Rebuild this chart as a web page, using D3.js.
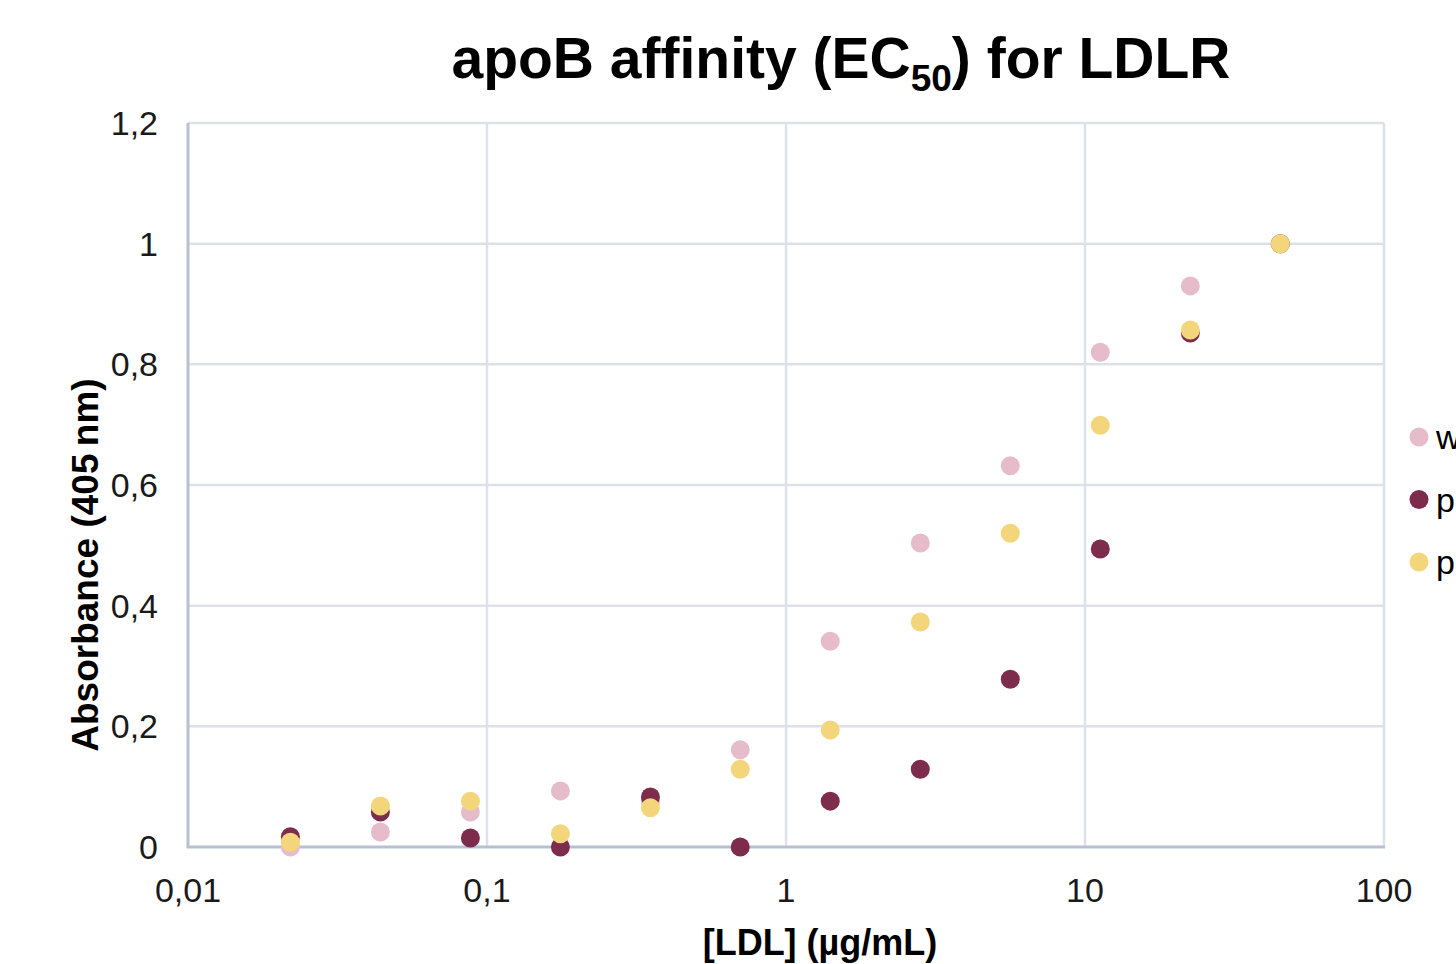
<!DOCTYPE html>
<html>
<head>
<meta charset="utf-8">
<script src="https://cdn.jsdelivr.net/npm/d3@7"></script>
<style>
  body { margin: 0; background: #fff; overflow: hidden; }
  text { font-family: "Liberation Sans", Arial, sans-serif; }
</style>
</head>
<body>
<svg id="chart" width="1456" height="964"></svg>
<script>
// LDL concentration series (µg/mL), 2-fold dilutions
const conc = [0.022, 0.044, 0.088, 0.176, 0.352, 0.703, 1.406, 2.813, 5.625, 11.25, 22.5, 45];

const seriesNames = ['w', 'p', 'p'];
const seriesW  = [0.000, 0.025, 0.058, 0.093, 0.075, 0.161, 0.341, 0.504, 0.632, 0.820, 0.930, 1.000];
const seriesP1 = [0.017, 0.058, 0.015, 0.000, 0.083, 0.000, 0.076, 0.129, 0.278, 0.494, 0.852, 1.000];
const seriesP2 = [0.008, 0.068, 0.076, 0.022, 0.065, 0.129, 0.194, 0.373, 0.520, 0.699, 0.857, 1.000];

const xTicks = [0.01, 0.1, 1, 10, 100];
const yTicks = [0, 0.2, 0.4, 0.6, 0.8, 1, 1.2];

const COLORS = ['#e6bccb', '#7d2c4b', '#f3d67c'];
const R = 9.5;

function main(){
  const svg = d3.select('#chart');
  const left = 188, right = 1384, top = 123, bottom = 847;

  const x = d3.scaleLog().domain([0.01, 100]).range([left, right]);
  const y = d3.scaleLinear().domain([0, 1.2]).range([bottom, top]);
  const comma = v => String(v).replace('.', ',');

  // grid
  svg.append('g').selectAll('line').data(yTicks.slice(1)).join('line')
    .attr('x1', left).attr('x2', right)
    .attr('y1', d => y(d)).attr('y2', d => y(d))
    .attr('stroke', '#dde2ea').attr('stroke-width', 2.5);
  svg.append('g').selectAll('line').data(xTicks.slice(1)).join('line')
    .attr('x1', d => x(d)).attr('x2', d => x(d))
    .attr('y1', top).attr('y2', bottom)
    .attr('stroke', '#dde2ea').attr('stroke-width', 2.5);

  // axes lines
  svg.append('line').attr('x1', left).attr('x2', left).attr('y1', top).attr('y2', bottom + 1)
    .attr('stroke', '#b7c0d0').attr('stroke-width', 3);
  svg.append('line').attr('x1', left - 1).attr('x2', right + 1).attr('y1', bottom).attr('y2', bottom)
    .attr('stroke', '#b7c0d0').attr('stroke-width', 3);

  // tick labels
  svg.append('g').selectAll('text').data(yTicks).join('text')
    .attr('x', 158).attr('y', d => y(d) + 12)
    .attr('text-anchor', 'end').attr('font-size', 34).attr('fill', '#1a1a1a')
    .text(comma);
  svg.append('g').selectAll('text').data(xTicks).join('text')
    .attr('x', d => x(d)).attr('y', 902)
    .attr('text-anchor', 'middle').attr('font-size', 34).attr('fill', '#1a1a1a')
    .text(comma);

  // titles
  const title = svg.append('text').attr('x', 841).attr('y', 78)
    .attr('text-anchor', 'middle').attr('font-size', 57).attr('font-weight', 'bold')
    .attr('fill', '#000');
  title.append('tspan').text('apoB affinity (EC');
  title.append('tspan').attr('font-size', 37).attr('dy', 13).text('50');
  title.append('tspan').attr('dy', -13).text(') for LDLR');

  svg.append('text').attr('x', 820).attr('y', 955)
    .attr('text-anchor', 'middle').attr('font-size', 36).attr('font-weight', 'bold')
    .text('[LDL] (µg/mL)');

  svg.append('text')
    .attr('transform', 'translate(98,565) rotate(-90)')
    .attr('text-anchor', 'middle').attr('font-size', 37).attr('font-weight', 'bold')
    .text('Absorbance (405\u2009nm)');

  // points
  const all = [seriesW, seriesP1, seriesP2];
  all.forEach((vals, i) => {
    svg.append('g').selectAll('circle').data(vals).join('circle')
      .attr('cx', (d, j) => x(conc[j])).attr('cy', d => y(d))
      .attr('r', R).attr('fill', COLORS[i]);
  });

  // legend (cut off at right edge, as in the reference)
  const lg = svg.append('g').selectAll('g').data(seriesNames).join('g')
    .attr('transform', (d, i) => `translate(1419,${437 + i * 62.5})`);
  lg.append('circle').attr('r', R).attr('fill', (d, i) => COLORS[i]);
  lg.append('text').attr('x', 17).attr('y', 12).attr('font-size', 34).text(d => d);
}

main();
</script>
</body>
</html>
